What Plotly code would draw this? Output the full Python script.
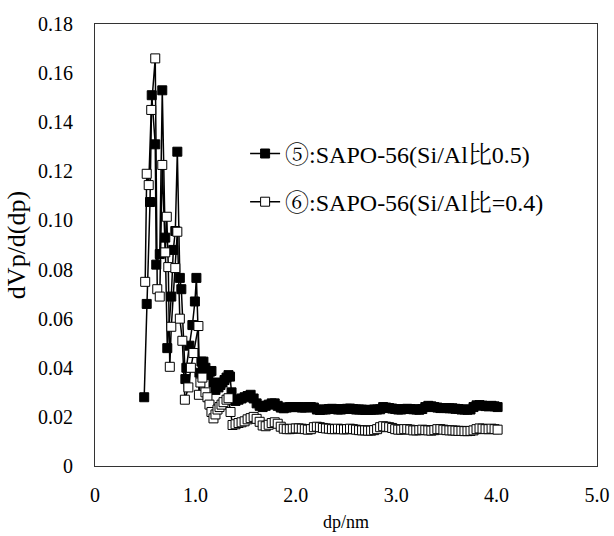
import plotly.graph_objects as go

# Series 5: SAPO-56 (Si/Al 0.5) - filled squares
x5 = [0.49, 0.515, 0.548, 0.565, 0.60, 0.61, 0.645, 0.67, 0.70, 0.72, 0.76, 0.78, 0.80, 0.82,
      0.845, 0.86, 0.90, 0.91, 0.94, 0.97, 0.995, 1.01, 1.04, 1.06, 1.08, 1.10, 1.12, 1.145,
      1.16, 1.18, 1.20, 1.23, 1.25, 1.27, 1.29, 1.31, 1.33, 1.345, 1.36, 1.38,
      1.40, 1.43, 1.46, 1.49, 1.52, 1.55, 1.58, 1.61, 1.64, 1.67, 1.70, 1.73, 1.76, 1.79,
      1.82, 1.85, 1.88, 1.91, 1.94, 1.97, 2.00, 2.03, 2.06, 2.09, 2.12, 2.15, 2.18, 2.21,
      2.24, 2.27, 2.30, 2.33, 2.36, 2.39, 2.42, 2.45, 2.48, 2.51, 2.54, 2.57, 2.60, 2.63,
      2.66, 2.69, 2.72, 2.75, 2.78, 2.81, 2.84, 2.87, 2.90, 2.93, 2.96, 2.99, 3.02, 3.05,
      3.08, 3.11, 3.14, 3.17, 3.20, 3.23, 3.26, 3.29, 3.32, 3.35, 3.38, 3.41, 3.44, 3.47,
      3.50, 3.53, 3.56, 3.59, 3.62, 3.65, 3.68, 3.71, 3.74, 3.77, 3.80, 3.83, 3.86, 3.89,
      3.92, 3.95, 3.98, 4.01]
y5 = [0.028, 0.066, 0.1075, 0.151, 0.131, 0.082, 0.0863, 0.153, 0.093, 0.048, 0.069, 0.088, 0.0957, 0.128,
      0.0766, 0.072, 0.0354, 0.040, 0.049, 0.0574, 0.067, 0.0766, 0.038, 0.0425, 0.0425, 0.040, 0.037, 0.0384,
      0.0387, 0.034, 0.031, 0.032, 0.033, 0.034, 0.035, 0.036, 0.037, 0.0364, 0.030, 0.027,
      0.0265, 0.0270, 0.0275, 0.0280, 0.0285, 0.0290, 0.0275, 0.0255, 0.0245, 0.0240, 0.0245, 0.0250, 0.0255, 0.0255,
      0.0245, 0.0238, 0.0235, 0.0238, 0.0240, 0.0240, 0.0240, 0.0240, 0.0238, 0.0238, 0.0240, 0.0240, 0.0238, 0.0230,
      0.0228, 0.0230, 0.0230, 0.0232, 0.0233, 0.0232, 0.0230, 0.0230, 0.0232, 0.0233, 0.0234, 0.0232, 0.0230, 0.0230,
      0.0230, 0.0228, 0.0228, 0.0229, 0.0230, 0.0230, 0.0231, 0.0240, 0.0238, 0.0236, 0.0234, 0.0232, 0.0230, 0.0230,
      0.0232, 0.0233, 0.0232, 0.0231, 0.0230, 0.0229, 0.0232, 0.0240, 0.0245, 0.0243, 0.0240, 0.0238, 0.0236, 0.0236,
      0.0236, 0.0235, 0.0235, 0.0233, 0.0232, 0.0230, 0.0230, 0.0229, 0.0230, 0.0240, 0.0247, 0.0248, 0.0246, 0.0244,
      0.0243, 0.0245, 0.0243, 0.0240]

# Series 6: SAPO-56 (Si/Al = 0.4) - open squares
x6 = [0.50, 0.515, 0.535, 0.56, 0.60, 0.62, 0.645, 0.67, 0.70, 0.715, 0.73, 0.745, 0.76, 0.80,
      0.82, 0.845, 0.87, 0.895, 0.93, 0.955, 0.98, 1.03, 1.035, 1.05, 1.07, 1.10, 1.12, 1.14,
      1.16, 1.18, 1.20, 1.22, 1.24, 1.26, 1.28, 1.31, 1.33, 1.35, 1.37,
      1.40, 1.43, 1.46, 1.49, 1.52, 1.55, 1.58, 1.61, 1.64, 1.67, 1.70, 1.73, 1.76, 1.79,
      1.82, 1.85, 1.88, 1.91, 1.94, 1.97, 2.00, 2.03, 2.06, 2.09, 2.12, 2.15, 2.18, 2.21,
      2.24, 2.27, 2.30, 2.33, 2.36, 2.39, 2.42, 2.45, 2.48, 2.51, 2.54, 2.57, 2.60, 2.63,
      2.66, 2.69, 2.72, 2.75, 2.78, 2.81, 2.84, 2.87, 2.90, 2.93, 2.96, 2.99, 3.02, 3.05,
      3.08, 3.11, 3.14, 3.17, 3.20, 3.23, 3.26, 3.29, 3.32, 3.35, 3.38, 3.41, 3.44, 3.47,
      3.50, 3.53, 3.56, 3.59, 3.62, 3.65, 3.68, 3.71, 3.74, 3.77, 3.80, 3.83, 3.86, 3.89,
      3.92, 3.95, 3.98, 4.01]
y6 = [0.075, 0.119, 0.1144, 0.145, 0.166, 0.072, 0.069, 0.1226, 0.087, 0.1015, 0.081, 0.0404, 0.0567, 0.0806,
      0.0954, 0.060, 0.051, 0.027, 0.032, 0.040, 0.046, 0.057, 0.029, 0.034, 0.036, 0.030, 0.028, 0.025,
      0.022, 0.0194, 0.021, 0.023, 0.024, 0.025, 0.026, 0.027, 0.0276, 0.022, 0.0167,
      0.0170, 0.0175, 0.0178, 0.0182, 0.0190, 0.0195, 0.0200, 0.0192, 0.0180, 0.0165, 0.0162, 0.0168, 0.0175, 0.0178,
      0.0172, 0.0160, 0.0152, 0.0150, 0.0150, 0.0152, 0.0153, 0.0153, 0.0152, 0.0150, 0.0148, 0.0150, 0.0158, 0.0160,
      0.0158, 0.0155, 0.0153, 0.0152, 0.0150, 0.0150, 0.0152, 0.0150, 0.0149, 0.0150, 0.0152, 0.0150, 0.0148, 0.0146,
      0.0145, 0.0145, 0.0144, 0.0144, 0.0146, 0.0150, 0.0158, 0.0162, 0.0160, 0.0158, 0.0155, 0.0150, 0.0148, 0.0148,
      0.0150, 0.0150, 0.0148, 0.0145, 0.0145, 0.0146, 0.0148, 0.0146, 0.0145, 0.0144, 0.0146, 0.0150, 0.0150, 0.0148,
      0.0146, 0.0145, 0.0145, 0.0144, 0.0143, 0.0143, 0.0142, 0.0142, 0.0143, 0.0145, 0.0150, 0.0153, 0.0152, 0.0150,
      0.0150, 0.0152, 0.0150, 0.0148]

name5 = "⑤:SAPO-56(Si/Al比0.5)"
name6 = "⑥:SAPO-56(Si/Al比=0.4)"

x_tickvals = [0, 1, 2, 3, 4, 5]
x_ticktext = ["0", "1.0", "2.0", "3.0", "4.0", "5.0"]
y_tickvals = [0, 0.02, 0.04, 0.06, 0.08, 0.10, 0.12, 0.14, 0.16, 0.18]
y_ticktext = ["0", "0.02", "0.04", "0.06", "0.08", "0.10", "0.12", "0.14", "0.16", "0.18"]

FONT = "Liberation Serif, Noto Serif CJK SC"

fig = go.Figure()
fig.add_trace(go.Scatter(
    x=x5, y=y5, name=name5, mode="lines+markers", legendgroup="a",
    line=dict(color="black", width=1.5),
    marker=dict(symbol="square", size=9, color="black", line=dict(color="black", width=1)),
))
fig.add_trace(go.Scatter(
    x=x6, y=y6, name=name6, mode="lines+markers", legendgroup="b",
    line=dict(color="black", width=1.5),
    marker=dict(symbol="square", size=9, color="white", line=dict(color="black", width=1)),
))

fig.update_layout(
    width=614, height=536,
    margin=dict(l=95, r=17, t=24, b=70),
    plot_bgcolor="white", paper_bgcolor="white",
    font=dict(family=FONT, size=20, color="black"),
    showlegend=True,
    legend=dict(x=0.299, y=0.757, xanchor="left", yanchor="top",
                bgcolor="rgba(0,0,0,0)", font=dict(family=FONT, size=24),
                tracegroupgap=14, itemwidth=30),
    xaxis=dict(range=[0, 5], tickvals=x_tickvals, ticktext=x_ticktext,
               showgrid=False, zeroline=False, showline=True, linecolor="#333",
               linewidth=1, mirror=True, ticks="", automargin=False,
               ticklabelstandoff=11, tickfont=dict(size=20),
               title=dict(text="dp/nm", font=dict(size=18), standoff=10)),
    yaxis=dict(range=[0, 0.18], tickvals=y_tickvals, ticktext=y_ticktext,
               showgrid=False, zeroline=False, showline=True, linecolor="#333",
               linewidth=1, mirror=True, ticks="", automargin=False,
               ticklabelstandoff=17, tickfont=dict(size=20),
               title=dict(text="dVp/d(dp)", font=dict(size=26), standoff=4)),
)

fig.write_html(
    "out.html",
    config={"displayModeBar": False},
    post_script="document.body.style.margin='0';document.body.style.overflow='hidden';",
)
